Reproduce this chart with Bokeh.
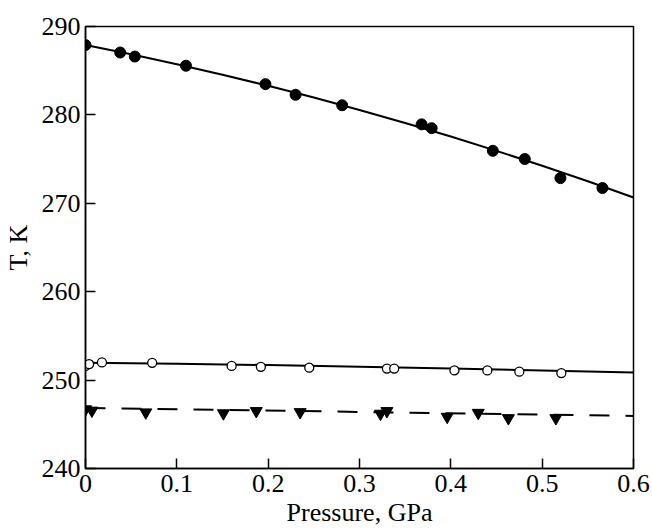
from bokeh.plotting import figure
from bokeh.models import Range1d, FixedTicker
from bokeh.embed import file_html
from bokeh.resources import INLINE

# ---- data ----
x_ticks = [0, 0.1, 0.2, 0.3, 0.4, 0.5, 0.6]
x_tick_labels = ["0", "0.1", "0.2", "0.3", "0.4", "0.5", "0.6"]
y_ticks = [240, 250, 260, 270, 280, 290]
x_title = "Pressure, GPa"
y_title = "T, K"

filled_p = [0.0, 0.038, 0.054, 0.110, 0.197, 0.230, 0.281, 0.368, 0.379, 0.446, 0.481, 0.520, 0.566]
filled_T = [287.9, 287.06, 286.6, 285.56, 283.48, 282.28, 281.09, 278.93, 278.5, 275.94, 275.01, 272.85, 271.73]
filled_fit_p = [0.0, 0.05, 0.1, 0.15, 0.2, 0.25, 0.3, 0.35, 0.4, 0.45, 0.5, 0.55, 0.6]
filled_fit_T = [287.9, 286.85, 285.74, 284.55, 283.29, 281.96, 280.56, 279.09, 277.55, 275.93, 274.25, 272.49, 270.65]

open_p = [0.0, 0.004, 0.018, 0.073, 0.160, 0.192, 0.245, 0.330, 0.338, 0.404, 0.440, 0.475, 0.521]
open_T = [251.6, 251.8, 252.0, 251.95, 251.6, 251.5, 251.4, 251.3, 251.3, 251.1, 251.1, 250.95, 250.8]
open_fit_p = [0.0, 0.1, 0.2, 0.3, 0.4, 0.5, 0.6]
open_fit_T = [251.95, 251.85, 251.7, 251.5, 251.3, 251.08, 250.85]

tri_p = [0.0, 0.007, 0.066, 0.151, 0.187, 0.235, 0.323, 0.330, 0.396, 0.430, 0.463, 0.515]
tri_T = [246.7, 246.55, 246.35, 246.25, 246.5, 246.38, 246.2, 246.5, 245.85, 246.3, 245.7, 245.7]
tri_fit_p = [0.0, 0.3, 0.6]
tri_fit_T = [246.85, 246.4, 245.95]

FONT = "Liberation Serif"
FS = "26px"

p = figure(width=652, height=529, output_backend="svg", toolbar_location=None,
           x_range=Range1d(0, 0.6), y_range=Range1d(240, 290),
           min_border_left=85, min_border_right=19, min_border_top=26, min_border_bottom=56)
p.background_fill_color = "white"
p.border_fill_color = "white"
p.grid.visible = False
p.outline_line_color = "black"
p.outline_line_width = 1.5

for ax in (p.xaxis[0], p.yaxis[0]):
    ax.axis_line_width = 1.5
    ax.axis_line_color = "black"
    ax.major_tick_in = 10
    ax.major_tick_out = 0
    ax.major_tick_line_width = 1.5
    ax.minor_tick_line_color = None
    ax.major_label_text_font = FONT
    ax.major_label_text_font_size = FS
    ax.major_label_text_color = "black"
    ax.axis_label_text_font = FONT
    ax.axis_label_text_font_size = FS
    ax.axis_label_text_font_style = "normal"
    ax.axis_label_text_color = "black"

p.xaxis.ticker = FixedTicker(ticks=x_ticks)
p.xaxis.major_label_overrides = {t: s for t, s in zip(x_ticks, x_tick_labels)}
p.xaxis.major_label_standoff = 6
p.xaxis.axis_label = x_title
p.xaxis.axis_label_standoff = 3
p.yaxis.ticker = FixedTicker(ticks=y_ticks)
p.yaxis.major_label_standoff = 5
p.yaxis.axis_label = y_title
p.yaxis.axis_label_standoff = 6

# fits
p.line(filled_fit_p, filled_fit_T, line_color="black", line_width=2)
p.line(open_fit_p, open_fit_T, line_color="black", line_width=2)
p.line(tri_fit_p, tri_fit_T, line_color="black", line_width=2, line_dash="20 16")

# markers
p.scatter(filled_p, filled_T, marker="circle", size=11, fill_color="black", line_color="black")
p.scatter(open_p, open_T, marker="circle", size=9, fill_color="white", line_color="black", line_width=1.3)
p.scatter(tri_p, tri_T, marker="inverted_triangle", size=12, fill_color="black", line_color="black")

open("out.html", "w").write(file_html(p, INLINE))
